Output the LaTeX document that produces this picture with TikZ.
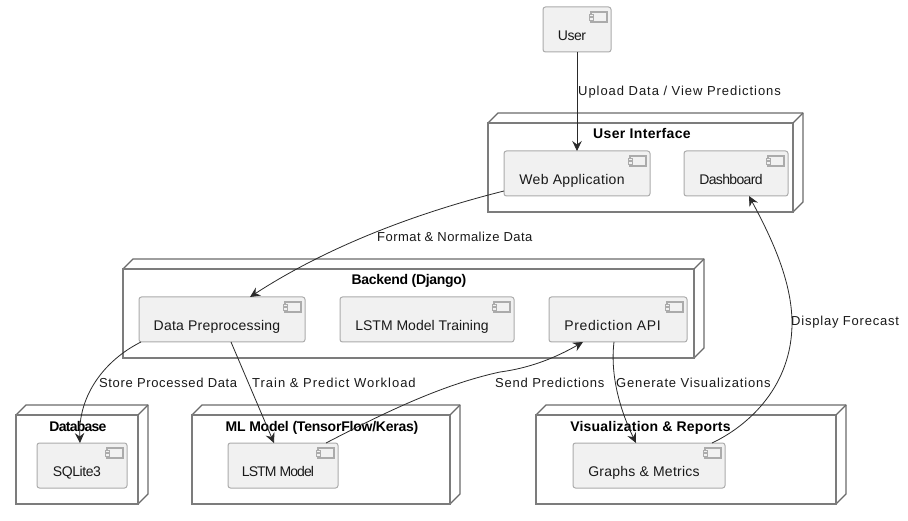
\documentclass[tikz,border=0pt]{standalone}
\usepackage{fontspec}
\setmainfont{Liberation Sans}
\usetikzlibrary{arrows.meta}
\definecolor{cfill}{HTML}{F1F1F1}
\definecolor{cline}{HTML}{ABABAB}
\definecolor{nline}{HTML}{6A6A6A}
\definecolor{fline}{HTML}{7C7C7C}
\definecolor{eline}{HTML}{2A2A2A}
\tikzset{
  x=1pt,y=-1pt,
  comp/.style={draw=cline,fill=cfill,rounded corners=2.5pt,line width=1pt,anchor=north west,inner sep=0pt,outer sep=0pt},
  ctext/.style={text=black!90,anchor=base,inner sep=0pt},
  ntitle/.style={text=black,anchor=base,inner sep=0pt},
  elabel/.style={text=black!90,anchor=base west,inner sep=0pt},
  backface/.style={draw=nline,fill=white,line width=1.3pt,line join=round},
  frontbox/.style={draw=fline,fill=white,line width=1.3pt,anchor=north west,inner sep=0pt,outer sep=0pt},
  icon/.style={draw=cline,fill=cfill,line width=1.1pt},
  edge/.style={draw=eline,line width=.8pt,-{Stealth[length=10pt,width=9.5pt,inset=3.5pt]}},
}
\newcommand{\nodebox}[8]{% name x0 y0 x1 y1 titlex letterspace title
  \draw[backface] (#2,#3) -- (#2+10,#3-10) -- (#4+10,#3-10) -- (#4+10,#5-10) -- (#4,#5) -- cycle;
  \node[frontbox,minimum width={(#4-#2)*1pt},minimum height={(#5-#3)*1pt}] (#1) at (#2,#3) {};
  \draw[backface] (#4,#3) -- (#4+10,#3-10);
  \node[ntitle,font=\fontsize{14}{16}\selectfont\bfseries\addfontfeatures{LetterSpace=#7}] (#1t) at (#6,#3+16) {#8};
}
\newcommand{\compbox}[8]{% name x0 y0 x1 y1 textx letterspace text
  \node[comp,minimum width={(#4-#2)*1pt},minimum height={(#5-#3)*1pt}] (#1) at (#2,#3) {};
  \draw[icon] (#4-20,#3+5) rectangle (#4-4,#3+15);
  \draw[icon,line width=.8pt] (#4-22,#3+7) rectangle (#4-18,#3+9.5);
  \draw[icon,line width=.8pt] (#4-22,#3+10.5) rectangle (#4-18,#3+13);
  \node[ctext,font=\fontsize{14}{16}\selectfont\addfontfeatures{LetterSpace=#7}] (#1t) at (#6,#3+33.6) {#8};
}
\newcommand{\edgelabel}[5]{% name x y letterspace text
  \node[elabel,font=\fontsize{13}{15}\selectfont\addfontfeatures{LetterSpace=#4}] (#1) at (#2,#3) {#5};
}
\begin{document}
\begin{tikzpicture}
\useasboundingbox (0,0) rectangle (908,521);
\fill[white] (0,0) rectangle (908,521);

\nodebox{ui}{488}{123}{793}{212}{642}{2.5}{User Interface}
\nodebox{be}{123}{269}{694}{358}{409}{-2.2}{Backend (Django)}
\nodebox{db}{16}{415}{138}{504}{78}{-5.3}{Database}
\nodebox{ml}{192}{415}{450}{504}{322}{-1.6}{ML Model (TensorFlow/Keras)}
\nodebox{vr}{536}{415}{836}{504}{650.5}{1.5}{Visualization \& Reports}

\compbox{user}{543}{7}{611}{52}{572}{-3.5}{User}
\compbox{web}{504}{151}{650}{196}{572}{2.4}{Web Application}
\compbox{dash}{684}{151}{788}{196}{731}{-4.8}{Dashboard}
\compbox{dp}{139}{297}{305}{342}{217}{1.6}{Data Preprocessing}
\compbox{lt}{340}{297}{514}{342}{422}{0}{LSTM Model Training}
\compbox{api}{549}{297}{687}{342}{612.5}{4.6}{Prediction API}
\compbox{sql}{37}{443}{127}{488}{77}{-3}{SQLite3}
\compbox{lm}{228}{443}{338}{488}{278}{-6.4}{LSTM Model}
\compbox{gm}{573}{443}{725}{488}{644}{1.8}{Graphs \& Metrics}

\path[edge] (user.south) -- (web.north);
\path[edge] ([shift={(0,40)}]web.north west) .. controls (420,212) and (330,245) .. ([shift={(111,0)}]dp.north west);
\path[edge] ([shift={(2,45)}]dp.north west) .. controls (105,360) and (78,395) .. ([shift={(43,0)}]sql.north west);
\path[edge] ([shift={(92,45)}]dp.north west) -- ([shift={(46,0)}]lm.north west);
\path[edge] ([shift={(98,0)}]lm.north west) .. controls (380,415) and (440,385) .. (500,372) .. controls (530,368) and (555,358) .. ([shift={(34,45)}]api.north west);
\path[edge] ([shift={(65,45)}]api.north west) .. controls (610,375) and (620,410) .. ([shift={(63,0)}]gm.north west);
\path[edge] ([shift={(139,0)}]gm.north west) .. controls (750,425) and (792,385) .. (792,323) .. controls (792,280) and (770,235) .. ([shift={(65,45)}]dash.north west);

\edgelabel{l1}{578}{96}{7.3}{Upload Data / View Predictions}
\edgelabel{l2}{377}{242}{3.5}{Format \& Normalize Data}
\edgelabel{l3}{99}{388}{4.9}{Store Processed Data}
\edgelabel{l4}{252}{388}{7.6}{Train \& Predict Workload}
\edgelabel{l5}{495}{388}{6}{Send Predictions}
\edgelabel{l6}{616}{388}{6.4}{Generate Visualizations}
\edgelabel{l7}{791}{326}{6.1}{Display Forecast}
\end{tikzpicture}
\end{document}
